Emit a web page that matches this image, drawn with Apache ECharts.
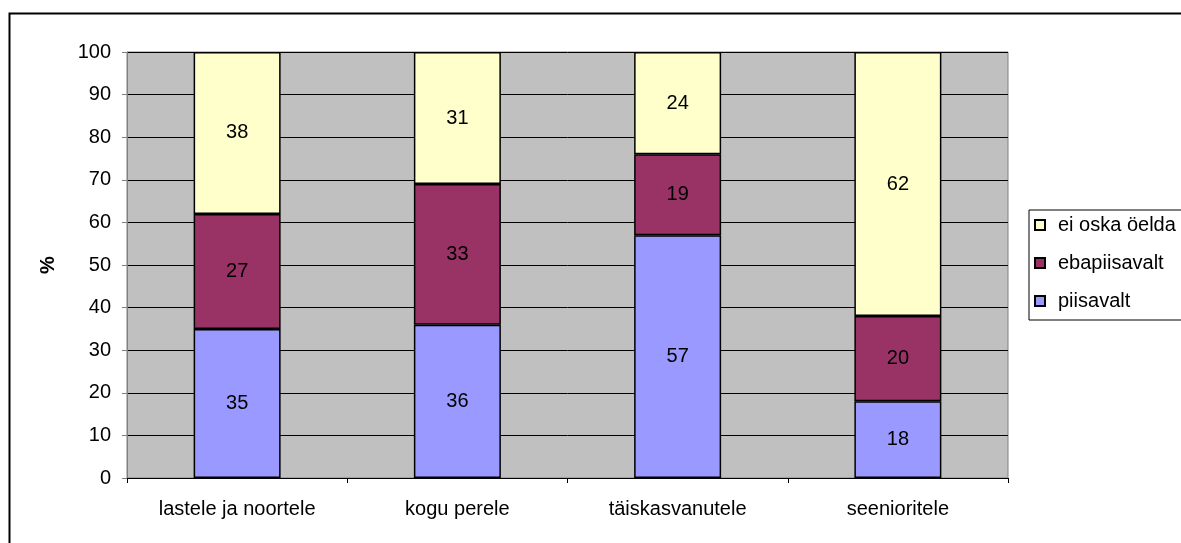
<!DOCTYPE html>
<html>
<head>
<meta charset="utf-8">
<script src="https://cdn.jsdelivr.net/npm/echarts@6/dist/echarts.min.js"></script>
<style>
  html, body { margin: 0; padding: 0; background: #fff; }
  #chart { width: 1181px; height: 543px; }
</style>
</head>
<body>
<div id="chart"></div>
<script>
// andmed
const categories = ['lastele ja noortele', 'kogu perele', 'täiskasvanutele', 'seenioritele'];
const piisavalt = [35, 36, 57, 18];
const ebapiisavalt = [27, 33, 19, 20];
const eiOska = [38, 31, 24, 62];
const yTicks = { min: 0, max: 100, interval: 10 };

const font = '"Liberation Sans", Arial, sans-serif';

function bar(name, data, color) {
  return {
    name: name,
    type: 'bar',
    stack: 'total',
    data: data,
    barWidth: 87,
    itemStyle: { color: color, borderColor: '#000', borderWidth: 1.5 },
    label: { show: true, position: 'inside', color: '#000', fontSize: 20, fontFamily: font },
    emphasis: { disabled: true }
  };
}

const chart = echarts.init(document.getElementById('chart'));
chart.setOption({
  animation: false,
  backgroundColor: '#fff',
  graphic: [{
    type: 'rect',
    shape: { x: 9.5, y: 13.5, width: 1200, height: 600 },
    style: { fill: 'none', stroke: '#000', lineWidth: 2 },
    z: -1
  }],
  grid: {
    left: 127, top: 52, right: 173, bottom: 65,
    show: true, backgroundColor: '#C0C0C0', borderColor: '#808080', borderWidth: 1
  },
  legend: {
    orient: 'vertical',
    left: 1029, top: 210,
    data: ['ei oska öelda', 'ebapiisavalt', 'piisavalt'],
    icon: 'rect',
    itemWidth: 10, itemHeight: 10, itemGap: 18,
    padding: [5, 20, 9, 5],
    borderColor: '#000', borderWidth: 1,
    selectedMode: false,
    textStyle: { fontSize: 20, fontFamily: font, color: '#000', padding: [0, 0, 0, 8] }
  },
  xAxis: {
    type: 'category',
    data: categories,
    axisLine: { lineStyle: { color: '#000', width: 1 } },
    axisTick: { show: true, length: 5, lineStyle: { color: '#000' } },
    axisLabel: { fontSize: 20, fontFamily: font, color: '#000', margin: 21 }
  },
  yAxis: {
    type: 'value',
    min: yTicks.min, max: yTicks.max, interval: yTicks.interval,
    name: '%',
    nameLocation: 'middle',
    nameGap: 69,
    nameTextStyle: { fontSize: 20, fontWeight: 'bold', fontFamily: font, color: '#000' },
    axisLine: { show: true, lineStyle: { color: '#808080' } },
    axisTick: { show: true, length: 5, lineStyle: { color: '#808080' } },
    axisLabel: { fontSize: 20, fontFamily: font, color: '#000', margin: 16 },
    splitLine: { lineStyle: { color: '#000', width: 1 } }
  },
  series: [
    bar('piisavalt', piisavalt, '#9999FF'),
    bar('ebapiisavalt', ebapiisavalt, '#993366'),
    bar('ei oska öelda', eiOska, '#FFFFCC')
  ]
});
</script>
</body>
</html>
